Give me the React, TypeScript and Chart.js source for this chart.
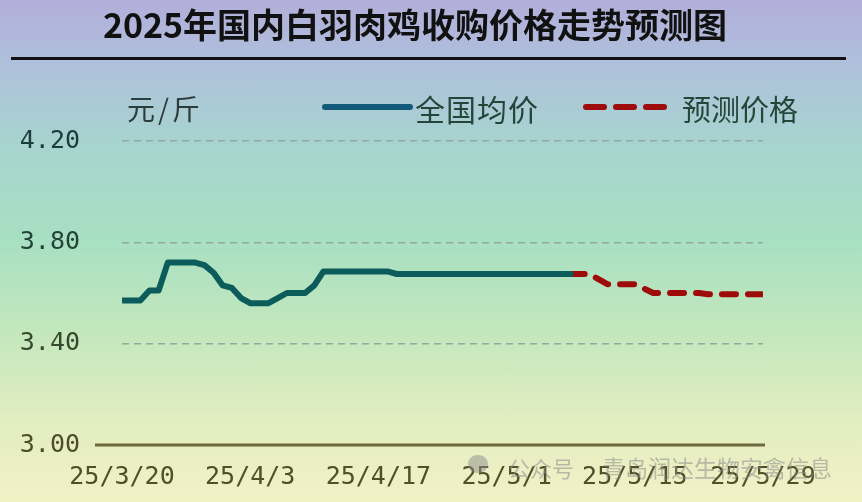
import React, { useEffect, useRef } from "react";
import { Chart, registerables } from "chart.js";

Chart.register(...registerables);

// ---- data ----
const tickLabels = ["25/3/20", "25/4/3", "25/4/17", "25/5/1", "25/5/15", "25/5/29"];
const tickStepDays = 14;
const totalDays = 70;

// days after 2025-03-20 and national average price (元/斤)
const actualDays = [0, 2, 3, 4, 5, 8, 9, 10, 11, 12, 13, 14, 16, 17, 18, 20, 21, 22, 29, 30, 49];
const actualValues = [3.57, 3.57, 3.61, 3.61, 3.72, 3.72, 3.71, 3.68, 3.63, 3.62, 3.58, 3.56, 3.56, 3.58, 3.6, 3.6, 3.63, 3.685, 3.685, 3.675, 3.675];

// forecast
const forecastDays = [49, 51, 53, 56, 58, 63, 64, 70];
const forecastValues = [3.675, 3.675, 3.635, 3.635, 3.6, 3.6, 3.595, 3.595];

const yMin = 3.0;
const yMax = 4.2;
const yStep = 0.4;

const title = "2025年国内白羽肉鸡收购价格走势预测图";
const unitLabel = "元/斤";
const seriesNames = ["全国均价", "预测价格"];
const watermark = ["公众号", "青岛润达生物安禽信息"];

const ACTUAL_COLOR = "#0b5c5a";
const LEGEND_ACTUAL_COLOR = "#125a7a";
const FORECAST_COLOR = "#9e0b0b";

const baselinePlugin = {
  id: "baseline",
  beforeDatasetsDraw(chart: any) {
    const { ctx, chartArea, scales } = chart;
    const y = scales.y.getPixelForValue(yMin);
    ctx.save();
    ctx.strokeStyle = "#6b6b3c";
    ctx.lineWidth = 3;
    ctx.beginPath();
    ctx.moveTo(chartArea.left - 27, y);
    ctx.lineTo(chartArea.right + 2, y);
    ctx.stroke();
    ctx.restore();
  },
};

export default function App() {
  const ref = useRef<HTMLCanvasElement | null>(null);

  useEffect(() => {
    document.body.style.margin = "0";
    const canvas = ref.current;
    if (!canvas) return;
    const monoFont = { family: "'DejaVu Sans Mono', monospace", size: 25 };
    const chart = new Chart(canvas, {
      type: "line",
      data: {
        datasets: [
          {
            label: seriesNames[0],
            data: actualDays.map((d, i) => ({ x: d, y: actualValues[i] })),
            borderColor: ACTUAL_COLOR,
            borderWidth: 6,
            borderCapStyle: "round",
            borderJoinStyle: "round",
            pointRadius: 0,
            fill: false,
            tension: 0,
          },
          {
            label: seriesNames[1],
            data: forecastDays.map((d, i) => ({ x: d, y: forecastValues[i] })),
            borderColor: FORECAST_COLOR,
            borderWidth: 6,
            borderDash: [14, 12],
            borderCapStyle: "round",
            borderJoinStyle: "round",
            pointRadius: 0,
            fill: false,
            tension: 0,
          },
        ],
      },
      options: {
        animation: false,
        responsive: false,
        devicePixelRatio: 1,
        layout: { padding: { top: 141, right: 99, left: 0, bottom: 0 } },
        plugins: { legend: { display: false }, tooltip: { enabled: false } },
        scales: {
          x: {
            type: "linear",
            min: 0,
            max: totalDays,
            grid: { display: false, drawTicks: false },
            border: { display: false },
            ticks: {
              stepSize: tickStepDays,
              autoSkip: false,
              maxRotation: 0,
              padding: 17,
              font: monoFont,
              color: "#4f4f28",
              callback: (v: any) => tickLabels[Math.round(Number(v) / tickStepDays)] ?? "",
            },
            afterFit: (s: any) => {
              s.height = 56;
            },
          },
          y: {
            min: yMin,
            max: yMax,
            grid: {
              drawTicks: false,
              lineWidth: 1.5,
              color: (c: any) => (c.tick && Math.abs(c.tick.value - yMin) < 1e-6 ? "rgba(0,0,0,0)" : "#92aa9e"),
              borderDash: [7, 5],
            } as any,
            border: { display: false, dash: [7, 5] },
            ticks: {
              stepSize: yStep,
              padding: 42,
              font: monoFont,
              color: (c: any) => {
                const v = c.tick ? c.tick.value : 0;
                if (v > 3.9) return "#1e3d38";
                if (v > 3.6) return "#244438";
                if (v > 3.2) return "#34492e";
                return "#4d4d2a";
              },
              callback: (v: any) => Number(v).toFixed(2),
            },
            afterFit: (s: any) => {
              s.width = 122;
            },
          },
        },
      },
      plugins: [baselinePlugin],
    } as any);
    return () => chart.destroy();
  }, []);

  const cjk = "'Noto Sans CJK SC', 'Noto Sans', sans-serif";

  return (
    <div
      style={{
        position: "fixed",
        left: 0,
        top: 0,
        width: 862,
        height: 502,
        overflow: "hidden",
        background:
          "linear-gradient(180deg, #b2aed9 0%, #afbfdc 12%, #a7d3cf 28%, #a8e0c2 48%, #c3e7bd 66%, #e2eec0 84%, #f2f1c6 100%)",
      }}
    >
      <canvas ref={ref} width={862} height={502} style={{ position: "absolute", left: 0, top: 0 }} />
      <div
        style={{
          position: "absolute",
          left: 0,
          width: 830,
          top: 4,
          textAlign: "center",
          fontFamily: cjk,
          fontWeight: 700,
          fontSize: 34,
          lineHeight: "40px",
          color: "#111",
          whiteSpace: "nowrap",
        }}
      >
        {title}
      </div>
      <div style={{ position: "absolute", left: 11, top: 57, width: 835, height: 3, background: "#111" }} />
      <div
        style={{
          position: "absolute",
          left: 127,
          top: 93,
          fontFamily: cjk,
          fontSize: 28,
          lineHeight: "30px",
          letterSpacing: 3,
          color: "#2c3e3c",
          whiteSpace: "nowrap",
        }}
      >
        {unitLabel}
      </div>
      <div
        style={{
          position: "absolute",
          left: 322,
          top: 104,
          width: 91,
          height: 6,
          borderRadius: 3,
          background: LEGEND_ACTUAL_COLOR,
        }}
      />
      <div
        style={{
          position: "absolute",
          left: 415,
          top: 93,
          fontFamily: cjk,
          fontSize: 30,
          lineHeight: "30px",
          letterSpacing: 1,
          color: "#24463a",
          whiteSpace: "nowrap",
        }}
      >
        {seriesNames[0]}
      </div>
      <svg style={{ position: "absolute", left: 583, top: 102 }} width={86} height={10}>
        <line
          x1={3}
          y1={5}
          x2={83}
          y2={5}
          stroke={FORECAST_COLOR}
          strokeWidth={6}
          strokeLinecap="round"
          strokeDasharray="18 12"
        />
      </svg>
      <div
        style={{
          position: "absolute",
          left: 682,
          top: 93,
          fontFamily: cjk,
          fontSize: 29,
          lineHeight: "30px",
          color: "#24463a",
          whiteSpace: "nowrap",
        }}
      >
        {seriesNames[1]}
      </div>
      <div
        style={{
          position: "absolute",
          left: 468,
          top: 455,
          width: 20,
          height: 18,
          borderRadius: 9,
          background: "rgba(140,140,140,0.5)",
        }}
      />
      <div
        style={{
          position: "absolute",
          left: 508,
          top: 454,
          fontFamily: cjk,
          fontSize: 22,
          lineHeight: "26px",
          color: "rgba(140,140,140,0.55)",
          whiteSpace: "nowrap",
        }}
      >
        {watermark[0]}
      </div>
      <div
        style={{
          position: "absolute",
          left: 602,
          top: 454,
          fontFamily: cjk,
          fontSize: 23,
          lineHeight: "26px",
          color: "rgba(140,140,140,0.55)",
          whiteSpace: "nowrap",
        }}
      >
        {watermark[1]}
      </div>
    </div>
  );
}
